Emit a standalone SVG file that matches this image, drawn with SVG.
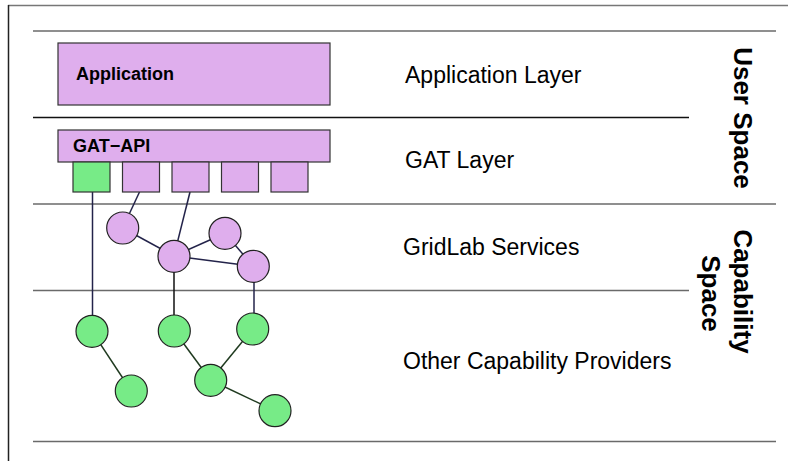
<svg xmlns="http://www.w3.org/2000/svg" width="788" height="461" viewBox="0 0 788 461">
<style>
.sep{stroke:#6a6a6a;stroke-width:1.5;fill:none}
.box{fill:#dfaeed;stroke:#333;stroke-width:1.2}
.gbox{fill:#77eb87;stroke:#333;stroke-width:1.2}
.pc{fill:#dfaeed;stroke:#222;stroke-width:1.2}
.gc{fill:#77eb87;stroke:#222;stroke-width:1.2}
.blue{stroke:#23234a;stroke-width:1.5;fill:none}
.green{stroke:#1f3a1f;stroke-width:1.5;fill:none}
.lbl{font-family:"Liberation Sans",Arial,sans-serif;font-size:23px;fill:#000}
.blbl{font-family:"Liberation Sans",Arial,sans-serif;font-size:18px;font-weight:bold;fill:#000}
.side{font-family:"Liberation Sans",Arial,sans-serif;font-size:26px;font-weight:bold;fill:#000}
</style>
<rect width="788" height="461" fill="#fff"/>
<g id="frame">
<line x1="8" y1="5.5" x2="788" y2="5.5" stroke="#777" stroke-width="1.5"/>
<line x1="8.5" y1="5" x2="8.5" y2="461" stroke="#222" stroke-width="1.5"/>
<line class="sep" x1="33" y1="31" x2="776" y2="31"/>
<line x1="33" y1="117.5" x2="689" y2="117.5" stroke="#111" stroke-width="1.5"/>
<line class="sep" x1="33" y1="204" x2="776" y2="204"/>
<line class="sep" x1="33" y1="290.5" x2="689" y2="290.5"/>
<line class="sep" x1="33" y1="441.5" x2="776" y2="441.5"/>
</g>
<g id="connectors">
<line class="blue" x1="92.5" y1="192" x2="92.5" y2="331"/>
<line class="blue" x1="139.5" y1="192" x2="122.7" y2="228"/>
<line class="blue" x1="190" y1="192" x2="174" y2="256"/>
<line class="blue" x1="122.7" y1="228" x2="174" y2="256"/>
<line class="blue" x1="174" y1="256" x2="225" y2="233.3"/>
<line class="blue" x1="225" y1="233.3" x2="253.3" y2="266.3"/>
<line class="blue" x1="174" y1="256" x2="253.3" y2="266.3"/>
<line x1="174" y1="256" x2="174" y2="331" stroke="#111" stroke-width="1.5"/>
<line class="blue" x1="254" y1="266.3" x2="254" y2="329"/>
<line class="green" x1="92" y1="331.3" x2="131.3" y2="391"/>
<line class="green" x1="174.3" y1="331" x2="210.7" y2="380.3"/>
<line class="green" x1="252.7" y1="329" x2="210.7" y2="380.3"/>
<line class="green" x1="210.7" y1="380.3" x2="275" y2="410.7"/>
</g>
<g id="application">
<rect class="box" x="58" y="43" width="272" height="62"/>
<text class="blbl" x="76" y="80">Application</text>
</g>
<g id="gat-api">
<rect class="box" x="58" y="130" width="272" height="32"/>
<text class="blbl" x="73" y="152">GAT−API</text>
</g>
<g id="adaptor1"><rect class="gbox" x="73" y="162" width="37" height="30"/></g>
<g id="adaptor2"><rect class="box" x="122.5" y="162" width="37" height="30"/></g>
<g id="adaptor3"><rect class="box" x="172" y="162" width="37" height="30"/></g>
<g id="adaptor4"><rect class="box" x="221.5" y="162" width="37" height="30"/></g>
<g id="adaptor5"><rect class="box" x="271" y="162" width="37" height="30"/></g>
<g id="service1"><circle class="pc" cx="122.7" cy="228" r="16"/></g>
<g id="service2"><circle class="pc" cx="174" cy="256.3" r="16"/></g>
<g id="service3"><circle class="pc" cx="225" cy="233.3" r="16"/></g>
<g id="service4"><circle class="pc" cx="253.3" cy="266.3" r="16"/></g>
<g id="provider1"><circle class="gc" cx="92" cy="331.3" r="16"/></g>
<g id="provider2"><circle class="gc" cx="174.3" cy="331" r="16"/></g>
<g id="provider3"><circle class="gc" cx="252.7" cy="329" r="16"/></g>
<g id="provider4"><circle class="gc" cx="131.3" cy="391" r="16"/></g>
<g id="provider5"><circle class="gc" cx="210.7" cy="380.3" r="16"/></g>
<g id="provider6"><circle class="gc" cx="275" cy="410.7" r="16"/></g>
<g id="labels">
<text class="lbl" x="405" y="83">Application Layer</text>
<text class="lbl" x="405" y="168">GAT Layer</text>
<text class="lbl" x="403" y="255">GridLab Services</text>
<text class="lbl" x="403" y="369">Other Capability Providers</text>
<text class="side" text-anchor="middle" transform="translate(734,118) rotate(90)">User Space</text>
<text class="side" text-anchor="middle" transform="translate(734,291.5) rotate(90)">Capability</text>
<text class="side" text-anchor="middle" transform="translate(702,293.5) rotate(90)">Space</text>
</g>
</svg>
